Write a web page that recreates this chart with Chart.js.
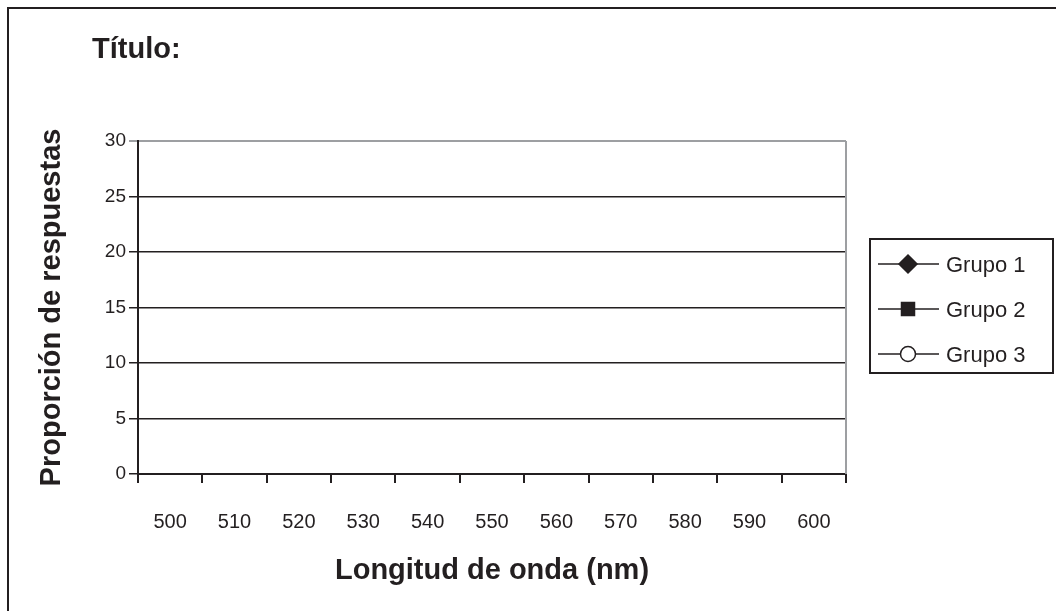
<!DOCTYPE html>
<html>
<head>
<meta charset="utf-8">
<script src="https://cdn.jsdelivr.net/npm/chart.js@4.4.1/dist/chart.umd.min.js"></script>
<style>
html,body{margin:0;padding:0;background:#fff;}
canvas{display:block;}
</style>
</head>
<body>
<canvas id="c" width="1056" height="611"></canvas>
<script>
// ---- data ----
const categories = ['500','510','520','530','540','550','560','570','580','590','600'];
const grupo1 = [null,null,null,null,null,null,null,null,null,null,null];
const grupo2 = [null,null,null,null,null,null,null,null,null,null,null];
const grupo3 = [null,null,null,null,null,null,null,null,null,null,null];
const seriesNames = ['Grupo 1','Grupo 2','Grupo 3'];
const yMin = 0, yMax = 30, yStep = 5;
const chartTitle = 'Título:';
const xTitle = 'Longitud de onda (nm)';
const yTitle = 'Proporción de respuestas';

const FONT = "'Liberation Sans', Arial, Helvetica, sans-serif";
const INK = '#231f20';

const decorPlugin = {
  id: 'decor',
  beforeDraw(chart) {
    const ctx = chart.ctx;
    ctx.save();
    ctx.fillStyle = '#fff';
    ctx.fillRect(0, 0, chart.width, chart.height);
    // outer frame (top + left)
    ctx.strokeStyle = INK;
    ctx.lineWidth = 2;
    ctx.beginPath();
    ctx.moveTo(8, chart.height);
    ctx.lineTo(8, 8);
    ctx.lineTo(chart.width, 8);
    ctx.stroke();
    // title
    ctx.fillStyle = INK;
    ctx.font = "bold 29px " + FONT;
    ctx.textBaseline = 'alphabetic';
    ctx.textAlign = 'left';
    ctx.fillText(chartTitle, 92, 58);
    ctx.restore();
  },
  afterDraw(chart) {
    const ctx = chart.ctx;
    const a = chart.chartArea;
    ctx.save();
    // right border of plot area (grey)
    ctx.strokeStyle = '#9d9fa2';
    ctx.lineWidth = 2;
    ctx.beginPath();
    ctx.moveTo(a.right, a.top);
    ctx.lineTo(a.right, a.bottom);
    ctx.stroke();
    // legend
    const bx = a.right + 24, by = 239, bw = 183, bh = 134;
    ctx.strokeStyle = INK;
    ctx.lineWidth = 2;
    ctx.strokeRect(bx, by, bw, bh);
    const rowsY = [264, 309, 354];
    chart.data.datasets.forEach((ds, i) => {
      const y = rowsY[i];
      const x0 = bx + 8, x1 = bx + 69, mx = bx + 38;
      ctx.strokeStyle = INK;
      ctx.lineWidth = 1.5;
      ctx.beginPath();
      ctx.moveTo(x0, y);
      ctx.lineTo(x1, y);
      ctx.stroke();
      ctx.fillStyle = ds.pointBackgroundColor;
      ctx.strokeStyle = ds.pointBorderColor;
      ctx.lineWidth = 1.5;
      const r = ds.pointRadius;
      ctx.beginPath();
      if (ds.pointStyle === 'rectRot') {
        ctx.moveTo(mx, y - r); ctx.lineTo(mx + r, y); ctx.lineTo(mx, y + r); ctx.lineTo(mx - r, y); ctx.closePath();
      } else if (ds.pointStyle === 'rect') {
        ctx.rect(mx - r, y - r, 2 * r, 2 * r);
      } else {
        ctx.arc(mx, y, r, 0, Math.PI * 2);
      }
      ctx.fill();
      ctx.stroke();
      ctx.fillStyle = INK;
      ctx.font = "22px " + FONT;
      ctx.textBaseline = 'alphabetic';
      ctx.textAlign = 'left';
      ctx.fillText(ds.label, bx + 76, y + 8);
    });
    ctx.restore();
  }
};

new Chart(document.getElementById('c'), {
  type: 'line',
  data: {
    labels: categories,
    datasets: [
      { label: seriesNames[0], data: grupo1, borderColor: INK, borderWidth: 1.5, pointStyle: 'rectRot', pointRadius: 9, pointBackgroundColor: INK, pointBorderColor: INK },
      { label: seriesNames[1], data: grupo2, borderColor: INK, borderWidth: 1.5, pointStyle: 'rect', pointRadius: 6.5, pointBackgroundColor: INK, pointBorderColor: INK },
      { label: seriesNames[2], data: grupo3, borderColor: INK, borderWidth: 1.5, pointStyle: 'circle', pointRadius: 7.5, pointBackgroundColor: '#fff', pointBorderColor: INK }
    ]
  },
  options: {
    responsive: false,
    animation: false,
    events: [],
    layout: { padding: { left: 0, top: 141, right: 210, bottom: 0 } },
    plugins: { legend: { display: false }, tooltip: { enabled: false }, title: { display: false } },
    scales: {
      x: {
        type: 'category',
        offset: true,
        afterFit(s) { s.height = 137; },
        grid: { display: true, offset: true, drawOnChartArea: false, drawTicks: true, tickLength: 9, color: INK, lineWidth: 2 },
        border: { display: true, color: INK, width: 2 },
        ticks: { color: INK, font: { family: FONT, size: 20 }, padding: 27, maxRotation: 0, autoSkip: false },
        title: { display: true, text: xTitle, color: INK, font: { family: FONT, size: 29, weight: 'bold' }, padding: { top: 0, bottom: 23 } }
      },
      y: {
        min: yMin, max: yMax,
        afterFit(s) { s.width = 138; },
        grid: {
          color: (c) => (c.tick && c.tick.value === yMax) ? '#9d9fa2' : INK,
          lineWidth: (c) => (c.tick && c.tick.value === yMax) ? 2 : 1.5,
          tickLength: 9, drawTicks: true
        },
        border: { display: true, color: INK, width: 2 },
        ticks: { stepSize: yStep, color: INK, font: { family: FONT, size: 19 }, padding: 3 },
        title: { display: true, text: yTitle, color: INK, font: { family: FONT, size: 29, weight: 'bold' }, padding: { top: 35, bottom: 0 } }
      }
    }
  },
  plugins: [decorPlugin]
});
</script>
</body>
</html>
